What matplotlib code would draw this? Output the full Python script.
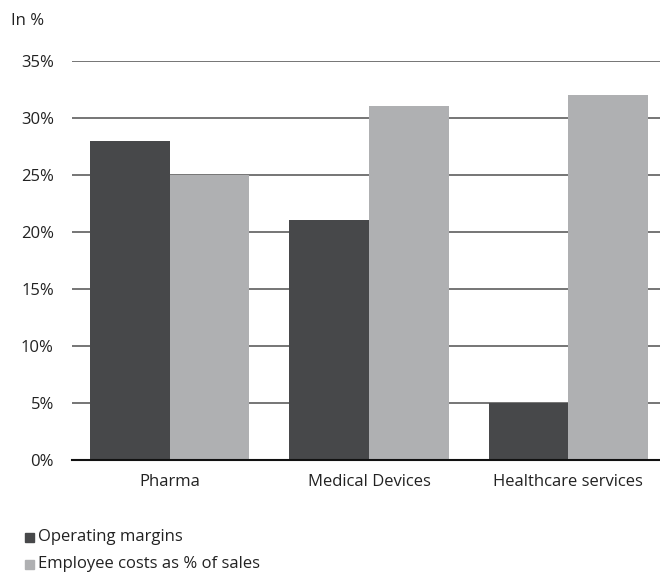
import numpy as np
import matplotlib.pyplot as plt
from matplotlib.patches import Rectangle

plt.rcParams['font.family'] = ['Open Sans', 'DejaVu Sans']

categories = ['Pharma', 'Medical Devices', 'Healthcare services']
operating_margins = [28, 21, 5]
employee_costs = [25, 31, 32]
series_names = ['Operating margins', 'Employee costs as % of sales']
yticks = [0, 5, 10, 15, 20, 25, 30, 35]

dark = '#47484a'
light = '#afb0b2'

fig = plt.figure(figsize=(6.6, 5.73), dpi=100)
ax = fig.add_axes([0.109, 0.197, 0.891, 0.697])

x = np.arange(len(categories))
w = 0.4
ax.bar(x - w / 2, operating_margins, w, color=dark, zorder=3)
ax.bar(x + w / 2, employee_costs, w, color=light, zorder=3)

ax.set_ylim(0, 35)
ax.set_xlim(-0.49, 2.46)
ax.set_yticks(yticks)
ax.set_yticklabels([f'{t}%' for t in yticks], fontsize=12, color='#222222')
ax.set_xticks(x)
ax.set_xticklabels(categories, fontsize=12, color='#222222')
ax.tick_params(axis='both', length=0)
ax.tick_params(axis='x', pad=10)
ax.tick_params(axis='y', pad=13)

for t in yticks[1:]:
    ax.axhline(t, color='#5e5e5e', linewidth=1.2, zorder=1)

for s in ['top', 'right', 'left']:
    ax.spines[s].set_visible(False)
ax.spines['bottom'].set_color('#111111')
ax.spines['bottom'].set_linewidth(1.5)
ax.spines['bottom'].set_zorder(4)

fig.text(0.017, 0.964, 'In %', fontsize=12, color='#222222', va='center')

# legend drawn by hand: small squares with labels underneath the chart
for i, (name, col) in enumerate(zip(series_names, [dark, light])):
    yc = 1 - (537 + 27 * i) / 573
    fig.patches.append(Rectangle((25 / 660, yc - 4.5 / 573), 9 / 660, 9 / 573,
                                 transform=fig.transFigure, color=col))
    fig.text(38 / 660, yc, name, fontsize=12, color='#222222', va='center')

fig.savefig('out.png', dpi=100)
